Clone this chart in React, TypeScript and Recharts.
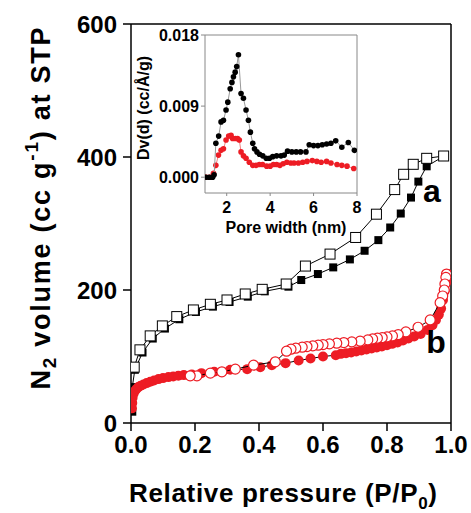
import { ScatterChart, Scatter, XAxis, YAxis, ReferenceLine, ReferenceDot, Label } from 'recharts'

// main isotherm, sample a (squares)
const aAdsP = [0.004, 0.004, 0.012, 0.036, 0.068, 0.106, 0.151, 0.203, 0.256, 0.308, 0.365, 0.418, 0.492, 0.532, 0.584, 0.632, 0.684, 0.73, 0.773, 0.81, 0.843, 0.875, 0.898, 0.924, 0.977]
const aAdsV = [17, 54, 80, 106, 127, 142, 156, 167, 175, 182, 190, 198, 205, 215, 224, 234, 246, 259, 275, 294, 315, 339, 363, 386, 401]
const aDesP = [0.977, 0.924, 0.882, 0.852, 0.824, 0.767, 0.702, 0.622, 0.545, 0.485, 0.41, 0.357, 0.3, 0.248, 0.195, 0.143, 0.098, 0.06, 0.028, 0.01]
const aDesV = [401.5, 398, 389, 374, 351, 314, 279, 254, 236, 209, 201, 194, 185, 178.5, 170, 160, 146, 131, 110, 84]

// main isotherm, sample b (circles)
const bAdsP = [0.003, 0.004, 0.005, 0.008, 0.012, 0.017, 0.023, 0.03, 0.039, 0.049, 0.06, 0.072, 0.086, 0.1, 0.117, 0.132, 0.148, 0.165, 0.19, 0.22, 0.26, 0.31, 0.363, 0.404, 0.44, 0.483, 0.524, 0.561, 0.6, 0.64, 0.656, 0.672, 0.688, 0.704, 0.72, 0.736, 0.752, 0.768, 0.784, 0.8, 0.816, 0.833, 0.85, 0.867, 0.885, 0.905, 0.927, 0.942, 0.953, 0.962, 0.969, 0.975, 0.98, 0.985, 0.99]
const bAdsV = [22, 30, 38, 44, 48, 51, 54, 56, 58, 60, 62, 64, 66, 67.5, 69, 70, 71, 72, 73, 75, 77, 80, 81, 84, 87, 90, 94, 97, 100, 102, 104, 105, 106, 107.5, 109, 110.5, 112, 113.5, 115, 117, 119, 121, 124, 127, 130, 134, 140, 147, 155, 163, 172, 185, 198, 212, 224]
const bDesP = [0.986, 0.984, 0.981, 0.979, 0.974, 0.966, 0.935, 0.897, 0.859, 0.835, 0.817, 0.8, 0.785, 0.77, 0.755, 0.74, 0.716, 0.69, 0.665, 0.643, 0.62, 0.6, 0.585, 0.568, 0.55, 0.535, 0.515, 0.5, 0.486, 0.451, 0.383, 0.326, 0.284, 0.248, 0.206, 0.185]
const bDesV = [224, 219, 209, 200, 191, 181, 155, 144, 137, 133, 131, 129.5, 128.5, 127.5, 126.5, 125, 123, 122, 121, 120, 119, 118, 117, 116, 115, 114, 112.5, 111, 108, 92, 87, 81, 77, 75, 71, 71]

// inset, pore size distribution
const psdW = [1.05, 1.2, 1.35, 1.42, 1.5, 1.63, 1.74, 1.85, 1.97, 2.05, 2.16, 2.24, 2.31, 2.39, 2.46, 2.54, 2.66, 2.77, 2.89, 3.0, 3.09, 3.2, 3.28, 3.39, 3.51, 3.66, 3.82, 3.97, 4.12, 4.3, 4.5, 4.65, 4.8, 5.0, 5.2, 5.4, 5.65, 5.8, 6.0, 6.2, 6.4, 6.6, 6.8, 7.02, 7.3, 7.6, 7.88]
const psdA = [0, 0, 0, 0.0003, 0.0043, 0.0052, 0.007, 0.0072, 0.0085, 0.0095, 0.0112, 0.012, 0.0127, 0.0133, 0.014, 0.0155, 0.0106, 0.01, 0.0085, 0.0072, 0.0057, 0.0043, 0.0036, 0.0032, 0.0029, 0.0027, 0.0024, 0.0024, 0.0026, 0.0027, 0.0027, 0.0028, 0.0033, 0.0032, 0.0032, 0.0032, 0.0032, 0.0041, 0.004, 0.004, 0.0041, 0.0042, 0.0043, 0.0046, 0.0038, 0.0044, 0.0034]
const psdWb = [1.05, 1.2, 1.28, 1.39, 1.5, 1.62, 1.74, 1.85, 1.97, 2.09, 2.2, 2.27, 2.4, 2.5, 2.58, 2.66, 2.77, 2.89, 3.04, 3.2, 3.35, 3.5, 3.65, 3.84, 4.0, 4.15, 4.3, 4.45, 4.6, 4.77, 4.95, 5.1, 5.3, 5.5, 5.7, 5.94, 6.15, 6.35, 6.6, 6.8, 7.08, 7.3, 7.54, 7.85]
const psdB = [0, 0, 0, 0.0005, 0.0015, 0.0028, 0.0034, 0.0036, 0.0047, 0.0052, 0.0053, 0.0049, 0.0049, 0.0049, 0.0047, 0.0032, 0.0027, 0.0024, 0.0019, 0.0015, 0.0015, 0.0016, 0.0016, 0.0014, 0.0014, 0.0016, 0.0016, 0.0015, 0.0017, 0.0019, 0.0018, 0.0018, 0.0018, 0.0019, 0.002, 0.0021, 0.002, 0.0019, 0.002, 0.0018, 0.0016, 0.0015, 0.0014, 0.0011]

const xTicks = [0, 0.2, 0.4, 0.6, 0.8, 1.0]
const yTicks = [0, 200, 400, 600]
const insetXTicks = [2, 4, 6, 8]
const insetYTicks = [0, 0.009, 0.018]

const zip = (xs: number[], ys: number[]) => xs.map((x, i) => ({ p: x, v: ys[i] }))

const FONT = '"Liberation Sans", Arial, sans-serif'
const RED = '#ed1c24'
const tickStyle = { fill: '#000', fontSize: 24, fontWeight: 'bold', fontFamily: FONT }
const insetTick = { fill: '#000', fontSize: 16, fontWeight: 'bold', fontFamily: FONT }

const filledSquare = (p: any) => <rect x={p.cx - 4} y={p.cy - 4} width={8} height={8} fill="#000" />
const openSquare = (p: any) => <rect x={p.cx - 5} y={p.cy - 5} width={10} height={10} fill="#fff" stroke="#000" strokeWidth={1} />
const filledCircle = (p: any) => <circle cx={p.cx} cy={p.cy} r={5} fill={RED} />
const openCircle = (p: any) => <circle cx={p.cx} cy={p.cy} r={5} fill="#fff" stroke={RED} strokeWidth={1.2} />
const dot = (color: string) => (p: any) => <circle cx={p.cx} cy={p.cy} r={2.8} fill={color} />

const YTitle = ({ viewBox }: any) => {
   const x = viewBox.x + 50
   const y = viewBox.y + viewBox.height / 2 - 15
   return (
      <text x={x} y={y} transform={`rotate(-90 ${x} ${y})`} textAnchor="middle" fontSize={27} fontWeight="bold" fontFamily={FONT}
         textLength={362} lengthAdjust="spacing">
         N<tspan dy={6} fontSize={19}>2</tspan>
         <tspan dy={-6}> volume (cc g</tspan>
         <tspan dy={-12} fontSize={19}>-1</tspan>
         <tspan dy={12}>) at STP</tspan>
      </text>
   )
}

const XTitle = ({ viewBox }: any) => {
   const x = viewBox.x + viewBox.width / 2 - 8
   const y = 502
   return (
      <text x={x} y={y} textAnchor="middle" fontSize={26} fontWeight="bold" fontFamily={FONT}
         textLength={308} lengthAdjust="spacing">
         Relative pressure (P/P<tspan dy={7} fontSize={17}>0</tspan>
         <tspan dy={-7}>)</tspan>
      </text>
   )
}

const InsetYTitle = ({ viewBox }: any) => {
   const x = viewBox.x + 24
   const y = viewBox.y + viewBox.height / 2 - 6
   return (
      <text x={x} y={y} transform={`rotate(-90 ${x} ${y})`} textAnchor="middle" fontSize={16} fontWeight="bold" fontFamily={FONT}>
         Dv(d) (cc/Å/g)
      </text>
   )
}

const InsetXTitle = ({ viewBox }: any) => (
   <text x={viewBox.x + viewBox.width / 2 + 5} y={viewBox.y + 40} textAnchor="middle" fontSize={16} fontWeight="bold" fontFamily={FONT}>
      Pore width (nm)
   </text>
)

const Inset = () => (
   <ScatterChart width={245} height={225} margin={{ top: 15, right: 13, bottom: 0, left: 0 }}>
      <XAxis type="number" dataKey="p" domain={[1, 8]} ticks={insetXTicks} allowDataOverflow
         stroke="#888" tickSize={3} tickMargin={6} tick={insetTick} height={52}>
         <Label content={InsetXTitle} />
      </XAxis>
      <YAxis type="number" dataKey="v" domain={[-0.002, 0.018]} ticks={insetYTicks} allowDataOverflow
         tickFormatter={(v: number) => v.toFixed(3)} stroke="#888" tickSize={4} tickMargin={2} tick={insetTick} width={80}>
         <Label content={InsetYTitle} />
      </YAxis>
      <ReferenceLine y={0.018} stroke="#888" />
      <ReferenceLine x={8} stroke="#888" />
      <Scatter data={zip(psdWb, psdB)} shape={dot(RED)} line={{ stroke: '#f08080', strokeWidth: 1 }} isAnimationActive={false} />
      <Scatter data={zip(psdW, psdA)} shape={dot('#000')} line={{ stroke: '#999', strokeWidth: 1 }} isAnimationActive={false} />
   </ScatterChart>
)

export default function App() {
   return (
      <div style={{ position: 'absolute', left: 0, top: 0, width: 471, height: 513, background: '#fff' }}>
         <ScatterChart width={471} height={513} margin={{ top: 24, right: 20, bottom: 0, left: 0 }}>
            <XAxis type="number" dataKey="p" domain={[0, 1]} ticks={xTicks} allowDataOverflow
               tickFormatter={(v: number) => v.toFixed(1)} stroke="#000" strokeWidth={1.5}
               tickSize={8} tickMargin={5} tick={tickStyle} height={90}>
               <Label content={XTitle} />
            </XAxis>
            <YAxis type="number" dataKey="v" domain={[0, 600]} ticks={yTicks} allowDataOverflow
               stroke="#000" strokeWidth={1.5} tickSize={8} tickMargin={6} tick={tickStyle} width={131}>
               <Label content={YTitle} />
            </YAxis>
            <ReferenceLine y={600} stroke="#000" strokeWidth={1.5} />
            <ReferenceLine x={1} stroke="#000" strokeWidth={1.5} />
            <Scatter data={zip(aAdsP, aAdsV)} shape={filledSquare} line={{ stroke: '#000', strokeWidth: 1 }} isAnimationActive={false} />
            <Scatter data={zip(aDesP, aDesV)} shape={openSquare} line={{ stroke: '#000', strokeWidth: 1 }} isAnimationActive={false} />
            <Scatter data={zip(bAdsP, bAdsV)} shape={filledCircle} line={{ stroke: '#000', strokeWidth: 1 }} isAnimationActive={false} />
            <Scatter data={zip(bDesP, bDesV)} shape={openCircle} line={{ stroke: '#000', strokeWidth: 1 }} isAnimationActive={false} />
            <ReferenceDot x={0.94} y={350} r={0} stroke="none"
               label={{ value: 'a', position: 'center', fontSize: 32, fontWeight: 'bold', fill: '#000', fontFamily: FONT }} />
            <ReferenceDot x={0.953} y={122} r={0} stroke="none"
               label={{ value: 'b', position: 'center', fontSize: 32, fontWeight: 'bold', fill: '#000', fontFamily: FONT }} />
         </ScatterChart>
         <div style={{ position: 'absolute', left: 125, top: 20 }}>
            <Inset />
         </div>
      </div>
   )
}
